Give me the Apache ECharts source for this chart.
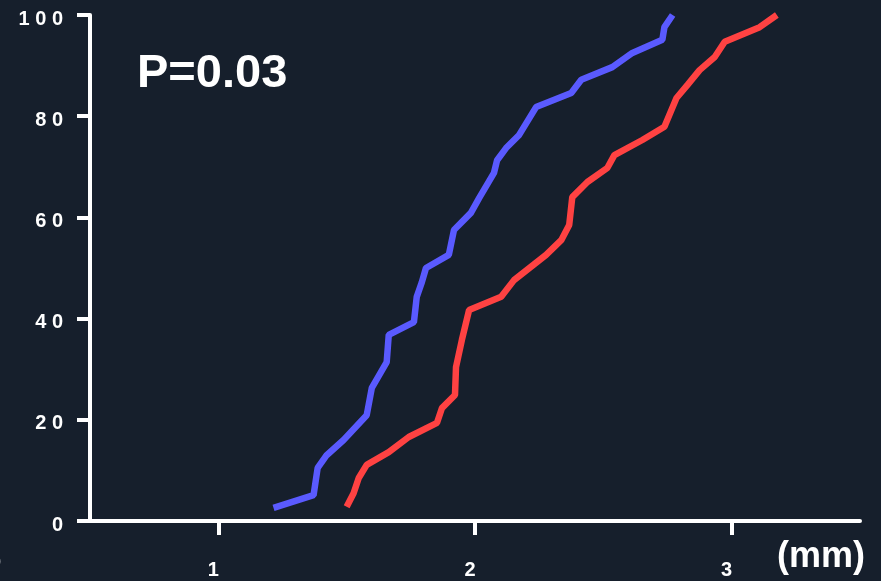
<!DOCTYPE html>
<html>
<head>
<meta charset="utf-8">
<script src="https://cdn.jsdelivr.net/npm/echarts@6/dist/echarts.min.js"></script>
<style>
  html, body { margin: 0; padding: 0; background: #161f2c; }
  #chart { width: 881px; height: 581px; }
</style>
</head>
<body>
<div id="chart"></div>
<script>
// Diameter (mm) vs cumulative %
const blueX = [1.215, 1.371, 1.387, 1.422, 1.488, 1.578, 1.598, 1.656, 1.664, 1.762, 1.773, 1.793, 1.809,
  1.898, 1.918, 1.984, 2.016, 2.074, 2.086, 2.121, 2.172, 2.238, 2.375, 2.414, 2.535, 2.613, 2.730, 2.738, 2.770];
const blueY = [2.6, 5.1, 10.5, 13.0, 16.0, 20.9, 26.3, 31.4, 36.8, 39.3, 44.3, 47.2, 50.0,
  52.6, 57.5, 60.9, 63.8, 68.8, 71.3, 73.7, 76.3, 81.8, 84.6, 87.2, 89.7, 92.5, 95.1, 97.6, 100];
const redX = [1.500, 1.527, 1.547, 1.578, 1.664, 1.742, 1.852, 1.871, 1.922, 1.926, 1.949, 1.977, 2.102, 2.152,
  2.277, 2.336, 2.367, 2.379, 2.438, 2.516, 2.543, 2.652, 2.738, 2.785, 2.828, 2.875, 2.934, 2.973, 3.109, 3.176];
const redY = [2.8, 5.5, 8.5, 11.1, 13.6, 16.6, 19.4, 22.3, 24.9, 30.4, 35.8, 41.7, 44.3, 47.6,
  52.6, 55.5, 58.5, 64.0, 67.0, 69.8, 72.3, 75.3, 77.9, 83.6, 86.2, 89.1, 91.7, 94.7, 97.6, 100];
const xTicks = [1, 2, 3];
const yTickLabels = ['0', '2 0', '4 0', '6 0', '8 0', '1 0 0'];
const pLabel = 'P=0.03';
const unitLabel = '(mm)';

const pairs = (xs, ys) => xs.map((x, i) => [x, ys[i]]);
const white = '#ffffff';
const labelFont = 'Liberation Sans, Arial, sans-serif';

const chart = echarts.init(document.getElementById('chart'));
chart.setOption({
  backgroundColor: '#161f2c',
  animation: false,
  grid: { left: 90, right: 21, top: 15, bottom: 60 },
  xAxis: {
    type: 'value',
    min: 0.5,
    max: 3.5,
    splitLine: { show: false },
    axisLine: { lineStyle: { color: white, width: 4 } },
    axisTick: { customValues: xTicks, length: 14, lineStyle: { color: white, width: 4 } },
    axisLabel: {
      customValues: xTicks,
      margin: 39,
      color: white,
      fontWeight: 'bold',
      fontSize: 20,
      fontFamily: labelFont,
      padding: [0, 10, 0, 0]
    }
  },
  yAxis: {
    type: 'value',
    min: 0,
    max: 100,
    interval: 20,
    splitLine: { show: false },
    axisLine: { show: true, lineStyle: { color: white, width: 4 } },
    axisTick: { show: true, length: 13, lineStyle: { color: white, width: 4 } },
    axisLabel: {
      margin: 27,
      color: white,
      fontWeight: 'bold',
      fontSize: 20,
      fontFamily: labelFont,
      verticalAlign: 'top',
      lineHeight: 8,
      formatter: v => yTickLabels[v / 20]
    }
  },
  series: [
    {
      type: 'line',
      data: pairs(blueX, blueY),
      showSymbol: false,
      lineStyle: { color: '#5a5aff', width: 6.5 }
    },
    {
      type: 'line',
      data: pairs(redX, redY),
      showSymbol: false,
      lineStyle: { color: '#ff4242', width: 6.5 }
    }
  ],
  graphic: [
    {
      type: 'text', left: 137, top: 51,
      style: { text: pLabel, fill: white, font: 'bold 47px "Liberation Sans", Arial, sans-serif' }
    },
    {
      type: 'text', left: 777, top: 539,
      style: { text: unitLabel, fill: white, font: 'bold 36px "Liberation Sans", Arial, sans-serif' }
    },
    {
      type: 'text', left: -9, top: 554,
      style: { text: '0', fill: white, font: 'bold 18px "Liberation Sans", Arial, sans-serif' }
    }
  ]
});
</script>
</body>
</html>
